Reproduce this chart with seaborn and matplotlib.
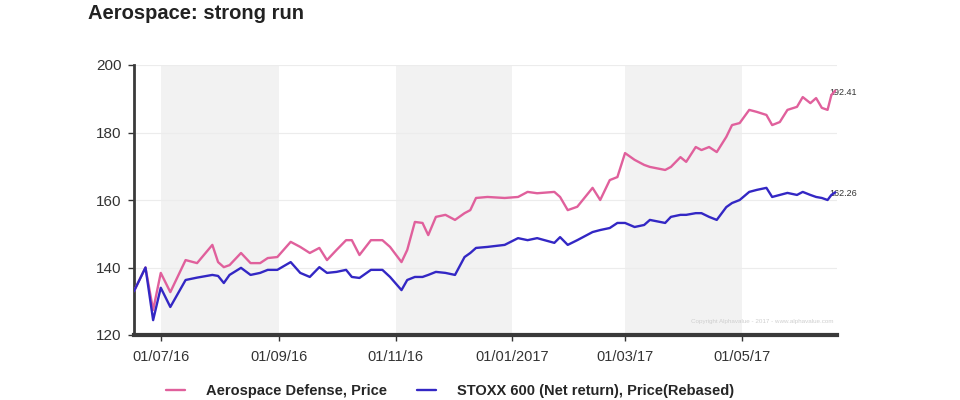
import pandas as pd
import matplotlib.pyplot as plt
import seaborn as sns

# Données (approximatives)
dates = ["2016-06-17", "2016-06-23", "2016-06-27", "2016-07-01", "2016-07-06", "2016-07-14",
         "2016-07-20", "2016-07-28", "2016-07-31", "2016-08-03", "2016-08-06", "2016-08-12",
         "2016-08-17", "2016-08-22", "2016-08-26", "2016-08-31", "2016-09-07", "2016-09-12",
         "2016-09-17", "2016-09-22", "2016-09-26", "2016-10-01", "2016-10-06", "2016-10-09",
         "2016-10-13", "2016-10-19", "2016-10-25", "2016-10-29", "2016-11-04", "2016-11-07",
         "2016-11-11", "2016-11-15", "2016-11-18", "2016-11-22", "2016-11-27", "2016-12-02",
         "2016-12-07", "2016-12-10", "2016-12-13", "2016-12-19", "2016-12-28", "2017-01-04",
         "2017-01-09", "2017-01-14", "2017-01-23", "2017-01-26", "2017-01-30", "2017-02-04",
         "2017-02-12", "2017-02-16", "2017-02-21", "2017-02-25", "2017-03-01", "2017-03-06",
         "2017-03-11", "2017-03-14", "2017-03-22", "2017-03-25", "2017-03-30", "2017-04-02",
         "2017-04-07", "2017-04-10", "2017-04-14", "2017-04-18", "2017-04-23", "2017-04-26",
         "2017-04-30", "2017-05-05", "2017-05-09", "2017-05-14", "2017-05-17", "2017-05-21",
         "2017-05-25", "2017-05-30", "2017-06-02", "2017-06-06", "2017-06-09", "2017-06-12",
         "2017-06-15", "2017-06-17", "2017-06-19"]

aero = [133.0, 140.0, 127.4, 138.4, 132.7, 142.2, 141.3, 146.7, 141.6, 140.1, 140.7, 144.3,
        141.3, 141.3, 142.8, 143.1, 147.6, 146.1, 144.3, 145.8, 142.2, 145.2, 148.1, 148.1,
        143.7, 148.1, 148.1, 146.1, 141.6, 145.2, 153.5, 153.2, 149.6, 155.0, 155.6, 154.1,
        156.1, 157.0, 160.6, 160.9, 160.6, 160.9, 162.4, 162.0, 162.4, 160.9, 157.0, 158.0,
        163.6, 160.0, 165.9, 166.8, 173.9, 171.9, 170.4, 169.8, 168.9, 169.8, 172.7, 171.3,
        175.7, 174.8, 175.7, 174.2, 178.7, 182.2, 182.8, 186.7, 186.1, 185.2, 182.2, 183.1,
        186.7, 187.6, 190.5, 188.7, 190.2, 187.3, 186.7, 191.1, 192.41]

stoxx = [133.0, 140.0, 124.4, 134.0, 128.3, 136.3, 137.0, 137.8, 137.5, 135.4, 137.8, 139.9,
         137.8, 138.4, 139.3, 139.3, 141.6, 138.4, 137.2, 140.1, 138.4, 138.7, 139.3, 137.2,
         136.9, 139.3, 139.3, 137.2, 133.3, 136.3, 137.2, 137.2, 137.8, 138.7, 138.4, 137.8,
         143.1, 144.3, 145.8, 146.1, 146.7, 148.7, 148.1, 148.7, 147.3, 149.0, 146.7, 148.1,
         150.5, 151.1, 151.7, 153.2, 153.2, 152.0, 152.6, 154.1, 153.2, 155.0, 155.6, 155.6,
         156.1, 156.1, 155.0, 154.1, 157.9, 159.1, 160.0, 162.4, 163.0, 163.6, 160.9, 161.5,
         162.1, 161.5, 162.4, 161.5, 160.9, 160.6, 160.0, 161.5, 162.26]

series_names = ["Aerospace Defense, Price", "STOXX 600 (Net return), Price(Rebased)"]
end_labels = ["192.41", "162.26"]

tick_dates = ["2016-07-01", "2016-09-01", "2016-11-01", "2017-01-01", "2017-03-01", "2017-05-01"]
tick_labels = ["01/07/16", "01/09/16", "01/11/16", "01/01/2017", "01/03/17", "01/05/17"]
bands = [("2016-07-01", "2016-09-01"), ("2016-11-01", "2017-01-01"), ("2017-03-01", "2017-05-01")]

df = pd.DataFrame({"date": pd.to_datetime(dates), series_names[0]: aero, series_names[1]: stoxx})
df_long = df.melt(id_vars="date", var_name="serie", value_name="prix")

# Style
sns.set_theme(style="white")
plt.rcParams['font.family'] = ['Liberation Sans', 'DejaVu Sans']

couleurs = {series_names[0]: "#e0609c", series_names[1]: "#3327c4"}

fig = plt.figure(figsize=(9.6, 4), dpi=100)
ax = fig.add_axes([0.1396, 0.1625, 0.7324, 0.675])

# Bandes grises alternées (deux mois)
for a, b in bands:
    ax.axvspan(pd.Timestamp(a), pd.Timestamp(b), color="#f2f2f2", zorder=0, lw=0)

for y in [140, 160, 180, 200]:
    ax.axhline(y, color="#ececec", lw=0.8, zorder=0.5)

sns.lineplot(data=df_long, x="date", y="prix", hue="serie", palette=couleurs,
             linewidth=1.7, ax=ax, zorder=3)

handles, labels = ax.get_legend_handles_labels()
ax.get_legend().remove()

ax.set_xlim(pd.Timestamp("2016-06-17"), pd.Timestamp("2017-06-20"))
ax.set_ylim(120, 200)
ax.set_yticks([120, 140, 160, 180, 200])
ax.set_xticks(pd.to_datetime(tick_dates))
ax.set_xticklabels(tick_labels)
ax.set_xlabel("")
ax.set_ylabel("")

ax.tick_params(axis="y", labelsize=11, colors="#333333", length=4, width=1, direction="out", left=True, pad=5)
ax.tick_params(axis="x", labelsize=10.5, colors="#333333", length=4, width=1, direction="out", bottom=True, pad=7)

for s in ["top", "right"]:
    ax.spines[s].set_visible(False)
ax.spines["left"].set_color("#3a3a3a")
ax.spines["left"].set_linewidth(2.0)
ax.spines["bottom"].set_color("#3a3a3a")
ax.spines["bottom"].set_linewidth(3.0)

# Étiquettes de fin de série
for vals, lab in zip([aero, stoxx], end_labels):
    ax.annotate(lab, xy=(pd.Timestamp(dates[-1]), vals[-1]), xytext=(-4, -1),
                textcoords="offset points", fontsize=6.5, color="#333333",
                ha="left", va="center", zorder=2)

ax.text(0.995, 0.05, "Copyright Alphavalue - 2017 - www.alphavalue.com", transform=ax.transAxes,
        fontsize=4.5, color="#cfcfcf", ha="right", va="center")

fig.text(88 / 960, 1 - 19 / 400, "Aerospace: strong run", fontsize=14.5, fontweight="bold",
         color="#222222", ha="left", va="baseline")

fig.legend(handles, labels, loc="center", bbox_to_anchor=(0.469, 0.022), ncol=2, frameon=False,
           handlelength=1.3, handletextpad=1.4, columnspacing=2.1,
           prop={"weight": "bold", "size": 10.5})

plt.savefig("out.png", dpi=100)
plt.close()
